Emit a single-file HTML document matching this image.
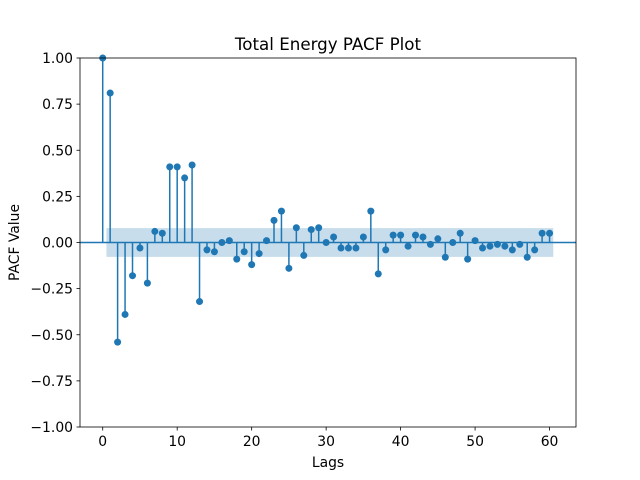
<!DOCTYPE html>
<html><head><meta charset="utf-8"><style>body{margin:0;background:#fff}svg{display:block;font-family:"DejaVu Sans","Liberation Sans",sans-serif}</style></head>
<body>
<svg id="chart" width="640" height="480"></svg>
<script>
const lags = [0,1,2,3,4,5,6,7,8,9,10,11,12,13,14,15,16,17,18,19,20,21,22,23,24,25,26,27,28,29,30,31,32,33,34,35,36,37,38,39,40,41,42,43,44,45,46,47,48,49,50,51,52,53,54,55,56,57,58,59,60];
const pacfValues = [1.0,0.81,-0.54,-0.39,-0.18,-0.03,-0.22,0.06,0.05,0.41,0.41,0.35,0.42,-0.32,-0.04,-0.05,0.0,0.01,-0.09,-0.05,-0.12,-0.06,0.01,0.12,0.17,-0.14,0.08,-0.07,0.07,0.08,0.0,0.03,-0.03,-0.03,-0.03,0.03,0.17,-0.17,-0.04,0.04,0.04,-0.02,0.04,0.03,-0.01,0.02,-0.08,0.0,0.05,-0.09,0.01,-0.03,-0.02,-0.01,-0.02,-0.04,-0.01,-0.08,-0.04,0.05,0.05];
const confBand = 0.078;
const xTicks = [0,10,20,30,40,50,60];
const yTicks = [-1.0,-0.75,-0.5,-0.25,0.0,0.25,0.5,0.75,1.0];
const yTickLabels = ["−1.00","−0.75","−0.50","−0.25","0.00","0.25","0.50","0.75","1.00"];

const L=80,R=576,T=58,B=427;
const xmin=-3.05,xmax=63.55;
const X=v=>L+(v-xmin)/(xmax-xmin)*(R-L);
const Y=v=>B-(v+1)/2*(B-T);
const svg=document.getElementById('chart');
const NS='http://www.w3.org/2000/svg';
function mk(tag,attrs,parent){const e=document.createElementNS(NS,tag);for(const k in attrs)e.setAttribute(k,attrs[k]);(parent||svg).appendChild(e);return e;}

const band=mk('rect',{x:X(0.5),y:Y(confBand),width:X(lags.length-0.5)-X(0.5),height:Y(-confBand)-Y(confBand),fill:'#1f77b4','fill-opacity':0.25});


const zl=mk('line',{x1:L,x2:R,y1:Y(0),y2:Y(0),stroke:'#1f77b4','stroke-width':1.5});



lags.forEach((lag,i)=>{
  const v=pacfValues[i];
  const s=mk('line',{x1:X(lag),x2:X(lag),y1:Y(0),y2:Y(v),stroke:'#1f77b4','stroke-width':1.5});
  
  
  const c=mk('circle',{cx:X(lag),cy:Y(v),r:3.5,fill:'#1f77b4'});
  
  
});

const frame=mk('rect',{x:L,y:T,width:R-L,height:B-T,fill:'none',stroke:'#000','stroke-width':0.8});



xTicks.forEach(t=>{
  const tl=mk('line',{x1:X(t),x2:X(t),y1:B,y2:B+3.5,stroke:'#000','stroke-width':0.8});
  
  
  const tx=mk('text',{x:X(t),y:B+19,'text-anchor':'middle','font-size':13.9});
  tx.textContent=t;
  
  
});
yTicks.forEach((t,i)=>{
  const tl=mk('line',{x1:L-3.5,x2:L,y1:Y(t),y2:Y(t),stroke:'#000','stroke-width':0.8});
  
  
  const tx=mk('text',{x:L-7,y:Y(t)+5,'text-anchor':'end','font-size':13.9});
  tx.textContent=yTickLabels[i];
  
  
});
const title=mk('text',{x:(L+R)/2,y:T-8,'text-anchor':'middle','font-size':16.7});
title.textContent='Total Energy PACF Plot';


const xl=mk('text',{x:(L+R)/2,y:B+40,'text-anchor':'middle','font-size':13.9});
xl.textContent='Lags';


const yl=mk('text',{x:0,y:0,'text-anchor':'middle','font-size':13.9,transform:'translate(19,'+((T+B)/2)+') rotate(-90)'});
yl.textContent='PACF Value';


</script>
</body></html>
